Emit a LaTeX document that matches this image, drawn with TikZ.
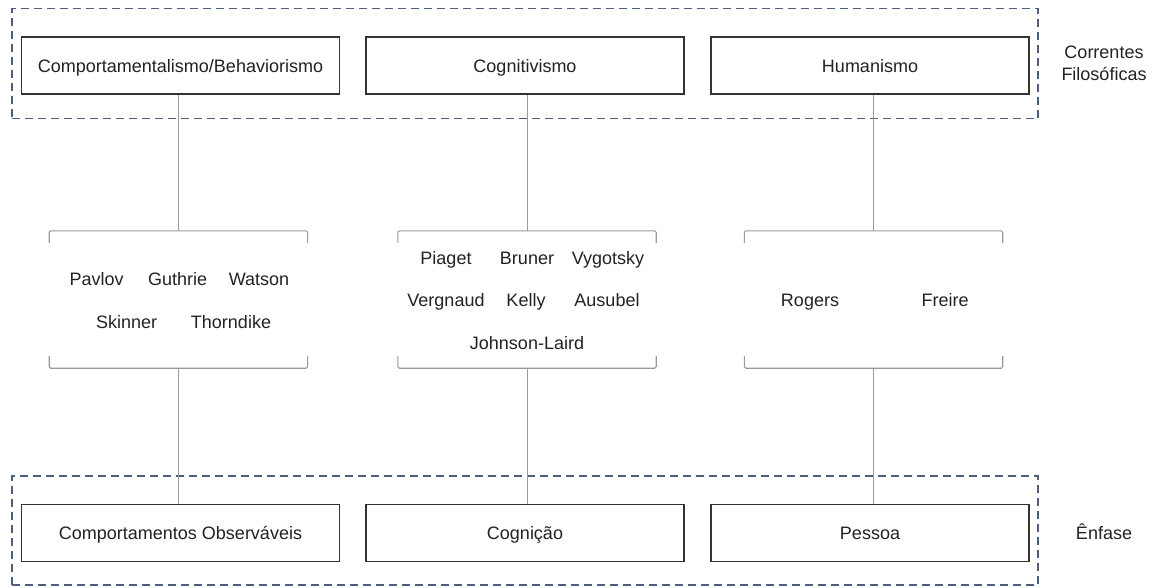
\documentclass[tikz,border=0pt]{standalone}
\usepackage{fontspec}
\setmainfont{Liberation Sans}
\definecolor{boxline}{HTML}{333333}
\definecolor{conn}{HTML}{9A9A9A}
\definecolor{dashc}{HTML}{4F5E7C}
\definecolor{txt}{HTML}{222222}
\begin{document}
\begin{tikzpicture}[x=1pt,y=-1pt,
  every node/.style={text=txt,font=\fontsize{18}{22}\selectfont},
  mainbox/.style={draw=boxline,line width=1.3pt,minimum width=318pt,minimum height=57pt,inner sep=0pt,text height=13pt,text depth=0pt},
  grp/.style={minimum width=258pt,minimum height=137pt,inner sep=0pt},
  bracketline/.style={draw=conn,line width=1.1pt,rounded corners=1.5pt},
  connline/.style={draw=conn,line width=1pt},
  dashbox/.style={draw=dashc,line width=1.3pt,dash pattern=on 8pt off 5pt},
  person/.style={inner sep=0pt,text height=13pt,text depth=0pt}]
\useasboundingbox (0,0) rectangle (1156,587);
% group frames
\node[dashbox,minimum width=1026pt,minimum height=110pt,inner sep=0pt] (fr1) at (525,63.5) {};
\node[dashbox,minimum width=1026pt,minimum height=109pt,inner sep=0pt] (fr2) at (525,530.5) {};
% top boxes
\node[mainbox,fill=white] (t1) at (180.5,65.5) {Comportamentalismo/Behaviorismo};
\node[mainbox,fill=white] (t2) at (525,65.5) {Cognitivismo};
\node[mainbox,fill=white] (t3) at (870,65.5) {Humanismo};
% bottom boxes
\node[mainbox,fill=white] (b1) at (180.5,533) {Comportamentos Observáveis};
\node[mainbox,fill=white] (b2) at (525,533) {Cognição};
\node[mainbox,fill=white] (b3) at (870,533) {Pessoa};
% side labels
\node[align=center,font=\fontsize{18}{22}\selectfont] (lab1) at (1104,63) {Correntes\\Filosóficas};
\node[person] (lab2) at (1104,533) {Ênfase};
% groups
\node[grp] (g1) at (178.4,299.5) {};
\node[grp] (g2) at (527,299.5) {};
\node[grp] (g3) at (873.5,299.5) {};
\foreach \g in {g1,g2,g3}{
  \draw[bracketline] ([yshift=12pt]\g.south west) -- (\g.south west) -- (\g.south east) -- ([yshift=12pt]\g.south east);
  \draw[bracketline] ([yshift=-12pt]\g.north west) -- (\g.north west) -- (\g.north east) -- ([yshift=-12pt]\g.north east);
}
% connectors
\draw[connline] (g1.north) -- (g1.north |- t1.south);
\draw[connline] (g2.north) -- (g2.north |- t2.south);
\draw[connline] (g3.north) -- (g3.north |- t3.south);
\draw[connline] (g1.south) -- (g1.south |- b1.north);
\draw[connline] (g2.south) -- (g2.south |- b2.north);
\draw[connline] (g3.south) -- (g3.south |- b3.north);
% names
\node[person] (pavlov) at (96.7,279) {Pavlov};
\node[person] (guthrie) at (177.7,279) {Guthrie};
\node[person] (watson) at (259,279) {Watson};
\node[person] (skinner) at (126.7,321.5) {Skinner};
\node[person] (thorndike) at (231,321.5) {Thorndike};
\node[person] (piaget) at (446,258) {Piaget};
\node[person] (bruner) at (527,258) {Bruner};
\node[person] (vygotsky) at (608,258) {Vygotsky};
\node[person] (vergnaud) at (446,300) {Vergnaud};
\node[person] (kelly) at (526,300) {Kelly};
\node[person] (ausubel) at (607,300) {Ausubel};
\node[person] (johnson) at (527,343) {Johnson-Laird};
\node[person] (rogers) at (810,300) {Rogers};
\node[person] (freire) at (945,300) {Freire};
\end{tikzpicture}
\end{document}
